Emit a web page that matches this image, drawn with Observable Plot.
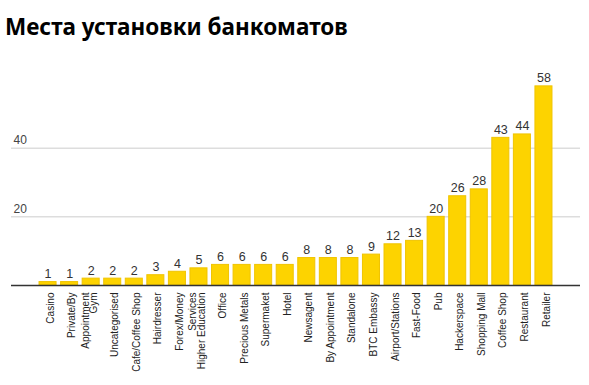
<!DOCTYPE html>
<html>
<head>
<meta charset="utf-8">
<script src="https://cdn.jsdelivr.net/npm/d3@7"></script>
<script src="https://cdn.jsdelivr.net/npm/@observablehq/plot@0.6"></script>
<style>
  body { margin: 0; background: #fff; }
  #title { height: 50px; box-sizing: border-box; padding: 13px 0 0 5px; font-family: "Noto Sans", sans-serif; font-weight: 700; font-size: 22.5px; line-height: 28px; color: #000; white-space: nowrap; }
  svg { display: block; }
</style>
</head>
<body>
<div id="title">Места установки банкоматов</div>
<div id="chart"></div>
<script>
const categories = ["Casino", "Private/By\nAppointment", "Gym", "Uncategorised", "Cafe/Coffee Shop", "Hairdresser",
  "Forex/Money\nServices", "Higher Education", "Office", "Precious Metals", "Supermaket", "Hotel",
  "Newsagent", "By Appointment", "Standalone", "BTC Embassy", "Airport/Stations", "Fast-Food",
  "Pub", "Hackerspace", "Shopping Mall", "Coffee Shop", "Restaurant", "Retailer"];
const values = [1, 1, 2, 2, 2, 3, 4, 5, 6, 6, 6, 6, 8, 8, 8, 9, 12, 13, 20, 26, 28, 43, 44, 58];
const yTicks = [20, 40];

const data = categories.map((c, i) => ({category: c, value: values[i]}));

const chart = Plot.plot({
  width: 589,
  height: 335,
  marginLeft: 11,
  marginRight: 9,
  marginTop: 29,
  marginBottom: 100,
  style: {fontFamily: "Liberation Sans, Arial, sans-serif", background: "#fff"},
  x: {domain: categories, axis: null, paddingInner: 0.21, paddingOuter: 1.3, round: false},
  y: {domain: [0, 60], axis: null},
  marks: [
    Plot.ruleY(yTicks, {stroke: "#cccccc", strokeWidth: 1}),
    Plot.text(yTicks, {y: d => d, text: d => String(d), frameAnchor: "left", textAnchor: "start", lineAnchor: "bottom", dx: 2, dy: -4, fontSize: 12, fill: "#444"}),
    Plot.barY(data, {x: "category", y: "value", fill: "#fdd300", stroke: "#f0c400", strokeWidth: 1}),
    Plot.ruleY([0], {stroke: "#333", strokeWidth: 1.5}),
    Plot.text(data, {x: "category", y: "value", text: d => String(d.value), lineAnchor: "bottom", dy: -4, fontSize: 12.5, fill: "#333"}),
    Plot.text(data, {x: "category", text: "category", frameAnchor: "bottom", rotate: -90, textAnchor: "end", lineAnchor: "top", lineHeight: 1.35, dx: -4, dy: 7, fontSize: 10, fill: "#222"})
  ]
});
document.getElementById("chart").appendChild(chart);
</script>
</body>
</html>
